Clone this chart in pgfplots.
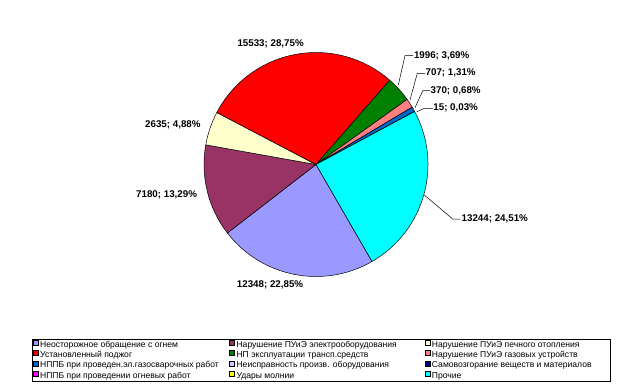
\documentclass[border=0pt]{standalone}
\usepackage{fontspec}
\setmainfont{Liberation Sans}
\usepackage{pgfplots}
\pgfplotsset{compat=1.18}
\definecolor{c1}{HTML}{9999FF}
\definecolor{c2}{HTML}{993366}
\definecolor{c3}{HTML}{FFFFCC}
\definecolor{c4}{HTML}{FF0000}
\definecolor{c5}{HTML}{008000}
\definecolor{c6}{HTML}{FF8080}
\definecolor{c7}{HTML}{0066CC}
\definecolor{c8}{HTML}{CCCCFF}
\definecolor{c9}{HTML}{000080}
\definecolor{c10}{HTML}{FF00FF}
\definecolor{c11}{HTML}{FFFF00}
\definecolor{c12}{HTML}{00FFFF}
\newcommand{\lA}[1]{\makebox[190bp][l]{\hspace{1.2bp}#1}}
\newcommand{\lB}[1]{\makebox[189bp][l]{\hspace{1.2bp}#1}}
\newcommand{\lC}[1]{\makebox[178bp][l]{\hspace{1.2bp}#1}}
\begin{document}
\begin{tikzpicture}
\begin{axis}[
  x=1bp, y=1bp,
  xmin=0, xmax=631, ymin=0, ymax=387,
  enlargelimits=false,
  hide axis, clip=false,
  legend columns=3,
  legend image code/.code={\filldraw[#1] (0bp,-0.3bp) rectangle (5bp,4.7bp);},
  legend style={at={(0.0500,0.1240)}, anchor=north west, draw=black, line width=0.6bp,
    font=\fontsize{8.6}{10}\selectfont, inner xsep=1.2bp, inner ysep=0.5bp,
    row sep=0.9bp, cells={anchor=west},
    nodes={inner sep=0.5bp, text height=6.4bp, text depth=1.8bp}},
]
\path (axis cs:0,0) rectangle (axis cs:631,387);
% pie slices, clockwise from -60 degrees; total = 54028
\xdef\curang{-60}
\foreach \v/\c in {12348/c1,7180/c2,2635/c3,15533/c4,1996/c5,707/c6,370/c7,0/c8,0/c9,0/c10,15/c11,13244/c12}{
  \pgfmathsetmacro\e{\curang-(\v/540.28)*3.6}
  \ifdim\v pt>0pt
  \edef\tmp{\noexpand\filldraw[fill=\c,draw=black,line width=0.5bp] (axis cs:316,222.5) -- ++(\curang:112bp) arc[start angle=\curang,end angle=\e,radius=112bp] -- cycle;}
  \tmp
  \fi
  \xdef\curang{\e}
}
% leader lines
\draw[black, line width=0.5bp] (axis cs:413,331.3) -- (axis cs:405,331.3) -- (axis cs:398.3,302);
\draw[black, line width=0.5bp] (axis cs:425,313.7) -- (axis cs:417.3,313.7) -- (axis cs:410,287);
\draw[black, line width=0.5bp] (axis cs:430,296.3) -- (axis cs:422.7,296.3) -- (axis cs:415,279.3);
\draw[black, line width=0.5bp] (axis cs:432.7,278.7) -- (axis cs:424.3,278.7) -- (axis cs:416.7,275.3);
\draw[black, line width=0.5bp] (axis cs:424.3,192) -- (axis cs:452.7,168) -- (axis cs:460.5,168);
% data labels
\tikzset{dl/.style={anchor=west, inner sep=0pt, font=\fontsize{9.8}{11}\selectfont\bfseries}}
\node[dl] at (axis cs:237.3,343) {15533; 28,75\%};
\node[dl] at (axis cs:413.8,331.3) {1996; 3,69\%};
\node[dl] at (axis cs:425.5,313.7) {707; 1,31\%};
\node[dl] at (axis cs:430.5,296.3) {370; 0,68\%};
\node[dl] at (axis cs:433.2,278.7) {15; 0,03\%};
\node[dl] at (axis cs:461.5,168) {13244; 24,51\%};
\node[dl] at (axis cs:236.7,102) {12348; 22,85\%};
\node[dl] at (axis cs:136,192) {7180; 13,29\%};
\node[dl] at (axis cs:145,262) {2635; 4,88\%};
% legend
\addlegendimage{fill=c1,draw=black,line width=0.4bp}
\addlegendentry{\lA{Неосторожное обращение с огнем}}
\addlegendimage{fill=c2,draw=black,line width=0.4bp}
\addlegendentry{\lB{Нарушение ПУиЭ электрооборудования}}
\addlegendimage{fill=c3,draw=black,line width=0.4bp}
\addlegendentry{\lC{Нарушение ПУиЭ печного отопления}}
\addlegendimage{fill=c4,draw=black,line width=0.4bp}
\addlegendentry{\lA{Установленный поджог}}
\addlegendimage{fill=c5,draw=black,line width=0.4bp}
\addlegendentry{\lB{НП эксплуатации трансп.средств}}
\addlegendimage{fill=c6,draw=black,line width=0.4bp}
\addlegendentry{\lC{Нарушение ПУиЭ газовых устройств}}
\addlegendimage{fill=c7,draw=black,line width=0.4bp}
\addlegendentry{\lA{НППБ при проведен.эл.газосварочных работ}}
\addlegendimage{fill=c8,draw=black,line width=0.4bp}
\addlegendentry{\lB{Неисправность произв. оборудования}}
\addlegendimage{fill=c9,draw=black,line width=0.4bp}
\addlegendentry{\lC{Самовозгорание веществ и материалов}}
\addlegendimage{fill=c10,draw=black,line width=0.4bp}
\addlegendentry{\lA{НППБ при проведении огневых работ}}
\addlegendimage{fill=c11,draw=black,line width=0.4bp}
\addlegendentry{\lB{Удары молнии}}
\addlegendimage{fill=c12,draw=black,line width=0.4bp}
\addlegendentry{\lC{Прочие}}
\end{axis}
\end{tikzpicture}
\end{document}
